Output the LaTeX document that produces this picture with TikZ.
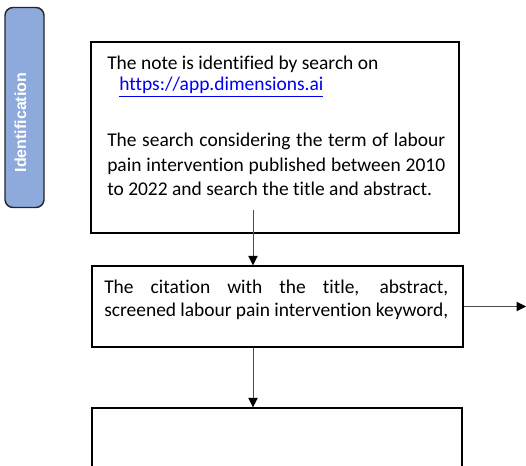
\documentclass[tikz,border=0pt]{standalone}
\usepackage{fontspec}
\setmainfont{Carlito}[Ligatures=NoCommon]
\newfontfamily\labelfont{Liberation Sans}
\usetikzlibrary{arrows.meta}
\definecolor{stageblue}{HTML}{8EA9DB}
\definecolor{linkblue}{HTML}{0000EE}
\tikzset{
  flowbox/.style={draw=black, line width=1.1pt, rectangle, inner sep=0pt},
  stagebox/.style={draw=black!85, line width=1.1pt, fill=stageblue, rounded corners=6pt, inner sep=0pt},
  line/.style={anchor=base west, inner sep=0pt, font=\fontsize{14.6}{17}\selectfont},
  flow/.style={draw=black!70, line width=0.7pt, -{Triangle[length=7pt,width=7pt,color=black]}},
}
\begin{document}
\begin{tikzpicture}[x=0.75pt, y=-0.75pt]
  \clip (0,0) rectangle (526,466);
  \fill[white] (0,0) rectangle (526,466);

  % stage label on the left
  \node[stagebox, minimum width=29.25pt, minimum height=150pt] (stage) at (24.5,107.5) {};
  \node[rotate=90, text=white, inner sep=0pt, font=\labelfont\bfseries\fontsize{12}{14}\selectfont] (stagetext) at (20.5,122.5) {Identification};

  % search box
  \node[flowbox, minimum width=276pt, minimum height=143.25pt] (search) at (275,137.5) {};
  \node[line] (s1) at (107,70) {The note is identified by search on};
  \node[line, text=linkblue] (s2) at (119,91) {\underline{https://app.dimensions.ai}};
  \node[line] (s3) at (107,147) {\makebox[253.5pt][s]{The search considering the term of labour}};
  \node[line] (s4) at (107,172) {\makebox[253.5pt][s]{pain intervention published between 2010}};
  \node[line] (s5) at (107,196) {to 2022 and search the title and abstract.};

  % screening box
  \node[flowbox, minimum width=278.25pt, minimum height=60.75pt] (screen) at (277.5,306.5) {};
  \node[line] (c1) at (104,294) {\makebox[258pt][s]{The citation with the title, abstract,}};
  \node[line] (c2) at (104,317) {\makebox[258pt][s]{screened labour pain intervention keyword,}};

  % next box (continues below)
  \node[flowbox, minimum width=277.5pt, minimum height=84pt] (next) at (277,464) {};

  % connectors
  \coordinate (start) at (253,210);
  \coordinate (aside) at (526,306.5);
  \draw[flow] (start) -- (start |- screen.north);
  \draw[flow] (start |- screen.south) -- (start |- next.north);
  \draw[flow] (screen.east) -- (aside);
\end{tikzpicture}
\end{document}
